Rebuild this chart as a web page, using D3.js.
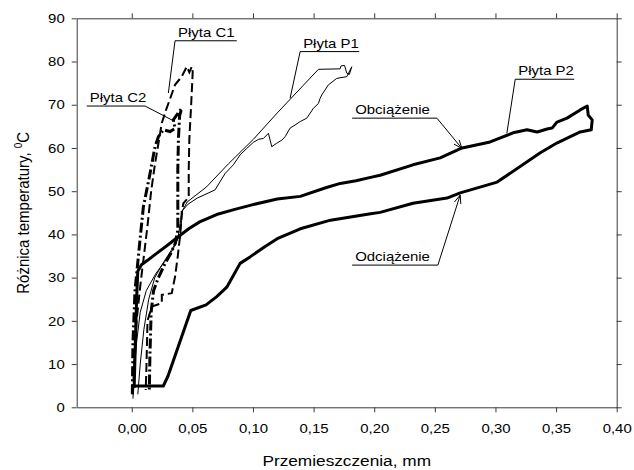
<!DOCTYPE html>
<html>
<head>
<meta charset="utf-8">
<script src="https://cdn.jsdelivr.net/npm/d3@7"></script>
<style>
  body { margin: 0; background: #fff; }
  svg { display: block; font-family: "Liberation Sans", Arial, sans-serif; }
</style>
</head>
<body>
<svg id="chart" width="634" height="470"></svg>
<script>
// ---- tick values ----
const xTicks = [0, 0.05, 0.10, 0.15, 0.20, 0.25, 0.30, 0.35, 0.40];
const yTicks = [0, 10, 20, 30, 40, 50, 60, 70, 80, 90];

// ---- Płyta P2 (thick solid loop: loading then unloading) ----
const p2X = [0.002, 0.003, 0.004, 0.005, 0.008, 0.013, 0.020, 0.030, 0.040, 0.047, 0.056, 0.070, 0.085, 0.100, 0.120, 0.139, 0.160, 0.172, 0.185, 0.197, 0.2049, 0.232, 0.2544, 0.2725, 0.2956, 0.3146, 0.326, 0.3344, 0.3426, 0.3467, 0.3508, 0.359, 0.3699, 0.3757, 0.3765, 0.3798, 0.379, 0.3699, 0.351, 0.337, 0.3014, 0.271, 0.260, 0.232, 0.2049, 0.197, 0.164, 0.139, 0.120, 0.110, 0.0976, 0.0894, 0.0838, 0.0784, 0.0701, 0.0613, 0.0487, 0.030, 0.026, 0.000];
const p2Y = [4.5, 15, 25, 31.5, 33.0, 34.0, 35.5, 37.6, 39.8, 41.3, 42.9, 44.6, 45.8, 46.9, 48.2, 48.8, 50.8, 51.8, 52.4, 53.2, 53.7, 56.1, 57.7, 60.0, 61.4, 63.5, 64.2, 63.7, 64.4, 64.6, 66.0, 66.9, 68.8, 69.7, 67.6, 66.5, 64.2, 63.7, 61.2, 58.9, 52.1, 49.6, 48.4, 47.2, 45.1, 44.8, 43.3, 41.3, 39.0, 37.2, 34.8, 33.3, 30.5, 27.8, 25.6, 23.7, 22.4, 7.3, 4.9, 4.9];

// ---- Płyta P1 (thin solid loop) ----
const p1X = [0.001, 0.002, 0.004, 0.007, 0.012, 0.020, 0.028, 0.034, 0.038, 0.0415, 0.0457, 0.0617, 0.080, 0.1003, 0.120, 0.154, 0.1718, 0.1727, 0.1755, 0.1774, 0.1795, 0.1815, 0.1774, 0.1691, 0.1622, 0.1568, 0.1554, 0.154, 0.1499, 0.1444, 0.1389, 0.1347, 0.1306, 0.1265, 0.1238, 0.1196, 0.1155, 0.1127, 0.1086, 0.1045, 0.1003, 0.0949, 0.0894, 0.0838, 0.077, 0.0687, 0.054, 0.0465, 0.042, 0.040, 0.033, 0.025, 0.019, 0.014, 0.010, 0.007, 0.005];
const p1Y = [2.0, 8, 15, 22, 27, 31, 34, 36.5, 39, 45.3, 47.5, 51.0, 56.4, 62.0, 68.1, 78.2, 78.3, 79.0, 79.1, 77.3, 77.0, 78.8, 76.5, 76.1, 74.6, 72.3, 71.5, 70.3, 69.2, 66.9, 66.1, 65.3, 64.6, 62.6, 61.8, 61.1, 60.3, 63.4, 62.2, 62.0, 61.3, 59.9, 58.4, 56.1, 54.1, 50.3, 48.4, 47.0, 45.6, 40, 36.5, 33, 30, 25, 18, 10, 3];

// ---- Płyta C1 (dashed) ----
const c1X = [0.001, 0.002, 0.004, 0.007, 0.010, 0.013, 0.016, 0.019, 0.022, 0.0248, 0.0283, 0.0357, 0.0412, 0.0454, 0.0475, 0.0495, 0.0503, 0.049, 0.0475, 0.047, 0.047, 0.0426, 0.0413, 0.040, 0.038, 0.0357, 0.033, 0.0248, 0.0248, 0.0165, 0.013, 0.012, 0.0115];
const c1Y = [3, 10, 20, 28, 35, 42, 50, 56, 61, 65.8, 68.8, 74.6, 76.5, 78.8, 77.5, 78.8, 77.6, 70, 62, 55, 48.6, 47.2, 45.3, 40, 35, 30.2, 26.4, 26.0, 24.1, 23.3, 20, 8, 4];

// ---- Płyta C2 (dash-dot, heavy) ----
const c2X = [0.0005, 0.001, 0.002, 0.0027, 0.0041, 0.0068, 0.0096, 0.0151, 0.0192, 0.022, 0.0261, 0.0316, 0.0357, 0.0343, 0.0412, 0.0395, 0.0385, 0.038, 0.038, 0.038, 0.036, 0.032, 0.027, 0.022, 0.018, 0.016, 0.015, 0.0145];
const c2Y = [3, 15, 22, 27.1, 31, 38.7, 46.4, 54.1, 60.3, 62.6, 64.2, 63.8, 64.5, 66.5, 69.2, 67.5, 62, 55, 48, 41, 38, 35.5, 33, 30, 27, 22, 12, 4];

// ---- annotations (data coordinates) ----
const labelNames = ["Płyta C1", "Płyta C2", "Płyta P1", "Płyta P2", "Obciążenie", "Odciążenie"];
const labelLineX0 = [0.0357, -0.0371, 0.1389, 0.3163, 0.1818, 0.1818];
const labelLineX1 = [0.0866, 0.0110, 0.1876, 0.3650, 0.2517, 0.2525];
const labelLineY = [84.8, 69.7, 82.3, 75.9, 66.9, 32.9];
const leaderFromEnd = [false, true, false, false, true, true];
const leaderX = [0.0302, 0.0357, 0.1306, 0.3094, 0.2723, 0.2709];
const leaderY = [72.7, 66.1, 71.5, 63.4, 59.9, 49.1];
const leaderArrow = [false, false, false, false, true, true];

const W = 634, H = 470;
const svg = d3.select("#chart");
const SX = 1.15; // horizontal glyph stretch seen in the reference

const x = d3.scaleLinear().domain([-0.0454, 0.40]).range([76.7, 616.7]);
const y = d3.scaleLinear().domain([0, 90]).range([407.3, 18.3]);

const axisColor = "#3a3a3a";
const fmtX = d => d3.format(".2f")(d).replace(".", ",");

function styleAxis(g, stretch) {
  g.select(".domain").attr("stroke", axisColor).attr("stroke-width", 1);
  g.selectAll(".tick line").attr("stroke", axisColor).attr("stroke-width", 1);
  g.selectAll("text").attr("fill", "#000").attr("font-size", 13)
    .attr("font-family", "'Liberation Sans', Arial, sans-serif")
    .each(function() {
      const t = d3.select(this);
      const tx = +t.attr("x") || 0, ty = +t.attr("y") || 0;
      if (stretch) t.attr("x", 0).attr("y", 0).attr("transform", `translate(${tx},${ty}) scale(${SX},1)`);
    });
}

// bottom axis
svg.append("g").attr("transform", `translate(0,${y(0)})`)
  .call(d3.axisBottom(x).tickValues(xTicks).tickFormat(fmtX).tickSize(5).tickSizeOuter(0).tickPadding(11))
  .call(g => styleAxis(g, true));
// top axis (ticks only)
svg.append("g").attr("transform", `translate(0,${y(90)})`)
  .call(d3.axisTop(x).tickValues(xTicks).tickFormat("").tickSize(5).tickSizeOuter(0))
  .call(g => styleAxis(g, false));
// left axis
svg.append("g").attr("transform", `translate(${x.range()[0]},0)`)
  .call(d3.axisLeft(y).tickValues(yTicks).tickFormat(d3.format("d")).tickSize(5).tickSizeOuter(0).tickPadding(7))
  .call(g => styleAxis(g, true));
// right axis (ticks only)
svg.append("g").attr("transform", `translate(${x.range()[1]},0)`)
  .call(d3.axisRight(y).tickValues(yTicks).tickFormat("").tickSize(5).tickSizeOuter(0))
  .call(g => styleAxis(g, false));

// axis titles
svg.append("text")
  .attr("transform", `translate(${(x.range()[0] + x.range()[1]) / 2},466) scale(${SX},1)`)
  .attr("text-anchor", "middle").attr("font-size", 15).attr("fill", "#000")
  .text("Przemieszczenia, mm");

const yt = svg.append("text")
  .attr("transform", `translate(29,${(y(0) + y(90)) / 2}) rotate(-90) scale(1,${SX})`)
  .attr("text-anchor", "middle").attr("font-size", 15).attr("fill", "#000");
yt.append("tspan").text("Różnica temperatury, ");
yt.append("tspan").attr("font-size", 10).attr("dy", -6).text("0");
yt.append("tspan").attr("dy", 6).text("C");

// series
const line = d3.line().x(d => x(d[0])).y(d => y(d[1]));
const zip = (xs, ys) => xs.map((v, i) => [v, ys[i]]);
const plot = svg.append("g");

plot.append("path").datum(zip(p1X, p1Y)).attr("d", line)
  .attr("fill", "none").attr("stroke", "#000").attr("stroke-width", 1).attr("stroke-linejoin", "round");
plot.append("path").datum(zip(c1X, c1Y)).attr("d", line)
  .attr("fill", "none").attr("stroke", "#000").attr("stroke-width", 2).attr("stroke-dasharray", "9,4");
plot.append("path").datum(zip(c2X, c2Y)).attr("d", line)
  .attr("fill", "none").attr("stroke", "#000").attr("stroke-width", 3).attr("stroke-dasharray", "10,3,2,3");
plot.append("path").datum(zip(p2X, p2Y)).attr("d", line)
  .attr("fill", "none").attr("stroke", "#000").attr("stroke-width", 3).attr("stroke-linejoin", "round");

// annotations
const ann = svg.append("g");
labelNames.forEach((name, i) => {
  const lx0 = x(labelLineX0[i]), lx1 = x(labelLineX1[i]), ly = y(labelLineY[i]);
  ann.append("line").attr("x1", lx0).attr("x2", lx1).attr("y1", ly).attr("y2", ly)
    .attr("stroke", "#000").attr("stroke-width", 1);
  const sx = leaderFromEnd[i] ? lx1 : lx0;
  const tx = x(leaderX[i]), ty = y(leaderY[i]);
  ann.append("line").attr("x1", sx).attr("y1", ly).attr("x2", tx).attr("y2", ty)
    .attr("stroke", "#000").attr("stroke-width", 1);
  if (leaderArrow[i]) {
    const ang = Math.atan2(ty - ly, tx - sx);
    const L = 9, a = 0.38;
    [ang + Math.PI - a, ang + Math.PI + a].forEach(b => {
      ann.append("line").attr("x1", tx).attr("y1", ty)
        .attr("x2", tx + L * Math.cos(b)).attr("y2", ty + L * Math.sin(b))
        .attr("stroke", "#000").attr("stroke-width", 1);
    });
  }
  ann.append("text")
    .attr("transform", `translate(${lx0 + 3},${ly - 4}) scale(${SX},1)`)
    .attr("font-size", 13).attr("fill", "#000").text(name);
});
</script>
</body>
</html>
